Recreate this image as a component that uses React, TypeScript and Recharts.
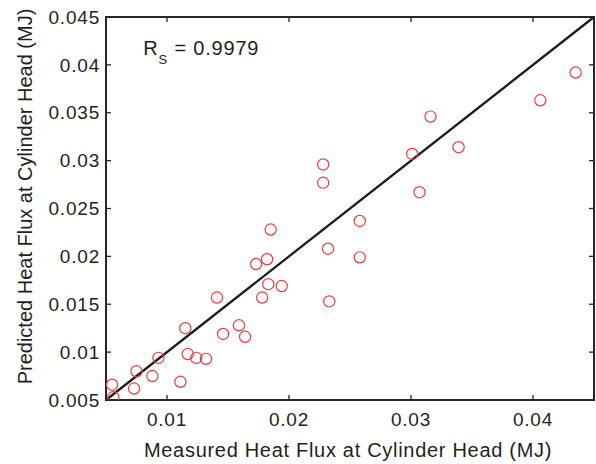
import React from "react";
import {
  ScatterChart,
  Scatter,
  XAxis,
  YAxis,
  ReferenceLine,
  ReferenceDot,
} from "recharts";

const measured = [
  0.0435, 0.0406, 0.0316, 0.0301, 0.0339, 0.0307, 0.0228, 0.0228, 0.0258,
  0.0185, 0.0232, 0.0258, 0.0182, 0.0173, 0.0183, 0.0194, 0.0141, 0.0178,
  0.0233, 0.0159, 0.0146, 0.0164, 0.0115, 0.0117, 0.0124, 0.0132, 0.0093,
  0.0111, 0.0088, 0.0075, 0.0073, 0.0055, 0.0056,
];
const predicted = [
  0.0392, 0.0363, 0.0346, 0.0307, 0.0314, 0.0267, 0.0296, 0.0277, 0.0237,
  0.0228, 0.0208, 0.0199, 0.0197, 0.0192, 0.0171, 0.0169, 0.0157, 0.0157,
  0.0153, 0.0128, 0.0119, 0.0116, 0.0125, 0.0098, 0.0094, 0.0093, 0.0094,
  0.0069, 0.0075, 0.008, 0.0062, 0.0066, 0.0053,
];
const xTicks = [0.01, 0.02, 0.03, 0.04];
const yTicks = [0.005, 0.01, 0.015, 0.02, 0.025, 0.03, 0.035, 0.04, 0.045];
const axisDomain: [number, number] = [0.005, 0.045];
const xLabel = "Measured Heat Flux at Cylinder Head (MJ)";
const yLabel = "Predicted Heat Flux at Cylinder Head (MJ)";
const rsValue = "0.9979";
const rsAnchor = { x: 0.00806, y: 0.04103 };

const points = measured.map((m, i) => ({ x: m, y: predicted[i] }));

const FONT = '"Liberation Sans", Arial, Helvetica, sans-serif';
const TEXT = "#231f20";
const AXIS = "#262626";

const axisLineStyle = { stroke: AXIS, strokeWidth: 2, strokeLinecap: "square" as const };
const tickLineStyle = { stroke: AXIS, strokeWidth: 1.3 };
const EmptyTick = () => <g />;

const Circle = (p: any) => (
  <circle cx={p.cx} cy={p.cy} r={5.6} fill="none" stroke="#ec3b3f" strokeWidth={1.2} />
);

const RsText = (p: any) => (
  <text x={p.cx} y={p.cy} fontFamily={FONT} fill={TEXT} fontSize={20} letterSpacing={0.8}>
    R
    <tspan fontSize={13} dy={9}>S</tspan>
    <tspan dy={-9}>{" = " + rsValue}</tspan>
  </text>
);

export default function App() {
  return (
    <div style={{ position: "absolute", left: 0, top: 0, background: "#fff" }}>
      <ScatterChart
        width={596}
        height={464}
        margin={{ top: 17, right: 2, bottom: 0, left: 0 }}
      >
        <XAxis
          xAxisId="main"
          dataKey="x"
          type="number"
          domain={axisDomain}
          ticks={xTicks}
          allowDataOverflow
          height={64}
          tickSize={0}
          tickMargin={13}
          tickLine={false}
          axisLine={axisLineStyle}
          tick={{ fontSize: 19, fill: TEXT, fontFamily: FONT, letterSpacing: 0.8 }}
          label={{
            content: (props: any) => {
              const vb = props.viewBox;
              return (
                <text
                  x={vb.x + vb.width / 2 - 2}
                  y={457}
                  textAnchor="middle"
                  fontSize={20}
                  fontFamily={FONT}
                  fill={TEXT}
                  letterSpacing={0.7}
                >
                  {xLabel}
                </text>
              );
            },
          }}
        />
        <XAxis
          xAxisId="btick"
          dataKey="x"
          type="number"
          domain={axisDomain}
          ticks={xTicks}
          allowDataOverflow
          orientation="bottom"
          mirror
          tick={EmptyTick}
          tickSize={5}
          tickLine={tickLineStyle}
          axisLine={false}
        />
        <XAxis
          xAxisId="top"
          dataKey="x"
          type="number"
          domain={axisDomain}
          ticks={xTicks}
          allowDataOverflow
          orientation="top"
          mirror
          tick={EmptyTick}
          tickSize={5}
          tickLine={tickLineStyle}
          axisLine={axisLineStyle}
        />
        <YAxis
          yAxisId="main"
          dataKey="y"
          type="number"
          domain={axisDomain}
          ticks={yTicks}
          allowDataOverflow
          width={106}
          tickSize={0}
          tickMargin={6}
          tickLine={false}
          axisLine={axisLineStyle}
          tick={{ fontSize: 19, fill: TEXT, fontFamily: FONT, letterSpacing: 0.8 }}
          label={{
            content: (props: any) => {
              const vb = props.viewBox;
              const cy = vb.y + vb.height / 2 - 12;
              return (
                <text
                  x={0}
                  y={0}
                  transform={`translate(32, ${cy}) rotate(-90)`}
                  textAnchor="middle"
                  fontSize={20}
                  fontFamily={FONT}
                  fill={TEXT}
                >
                  {yLabel}
                </text>
              );
            },
          }}
        />
        <YAxis
          yAxisId="ltick"
          dataKey="y"
          type="number"
          domain={axisDomain}
          ticks={yTicks}
          allowDataOverflow
          orientation="left"
          mirror
          tick={EmptyTick}
          tickSize={5}
          tickLine={tickLineStyle}
          axisLine={false}
        />
        <YAxis
          yAxisId="right"
          dataKey="y"
          type="number"
          domain={axisDomain}
          ticks={yTicks}
          allowDataOverflow
          orientation="right"
          mirror
          tick={EmptyTick}
          tickSize={5}
          tickLine={tickLineStyle}
          axisLine={axisLineStyle}
        />
        <ReferenceLine
          xAxisId="main"
          yAxisId="main"
          segment={[
            { x: axisDomain[0], y: axisDomain[0] },
            { x: axisDomain[1], y: axisDomain[1] },
          ]}
          stroke="#1c1c1c"
          strokeWidth={2.3}
        />
        <Scatter
          xAxisId="main"
          yAxisId="main"
          data={points}
          shape={Circle}
          isAnimationActive={false}
        />
        <ReferenceDot
          xAxisId="main"
          yAxisId="main"
          x={rsAnchor.x}
          y={rsAnchor.y}
          r={0}
          shape={RsText}
        />
      </ScatterChart>
    </div>
  );
}
